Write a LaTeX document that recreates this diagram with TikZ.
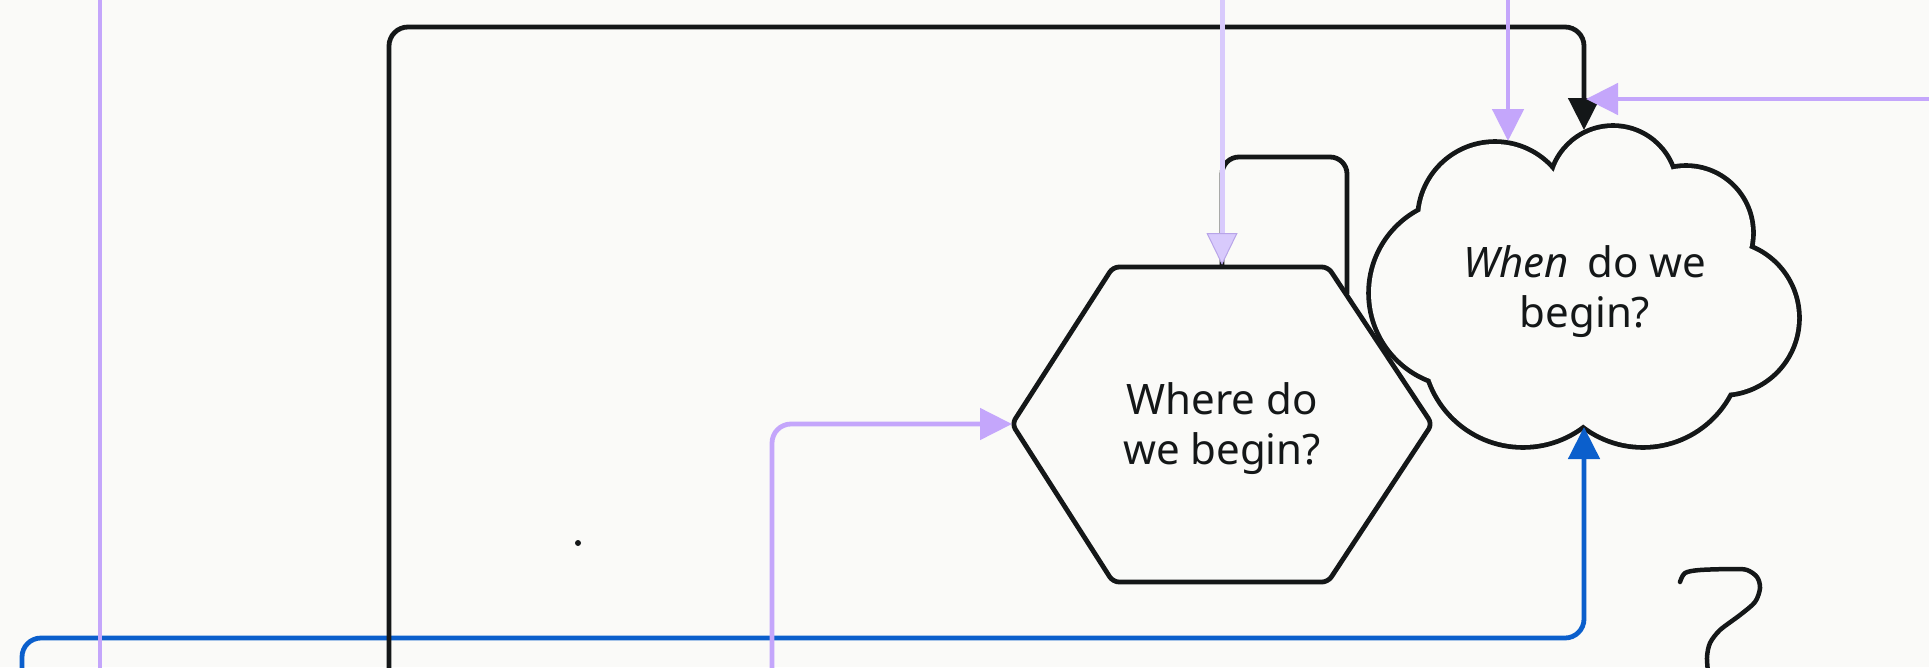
\documentclass[tikz,border=0pt]{standalone}
\usepackage{fontspec}
\setmainfont{Noto Sans}
\usetikzlibrary{arrows.meta}
\definecolor{bg}{HTML}{FAFAF8}
\definecolor{ink}{HTML}{141718}
\definecolor{mpurple}{HTML}{C4A6FB}
\definecolor{lpurple}{HTML}{D8CAFC}
\definecolor{lpurpleedge}{HTML}{B8A4E8}
\definecolor{flowblue}{HTML}{0B5FCC}
\begin{document}
\begin{tikzpicture}[x=1pt,y=-1pt,
  conn/.style={line width=4.8pt, rounded corners=19pt},
  arrowtip/.style={-{Triangle[length=32pt,width=31pt]}},
  shapeline/.style={draw=ink, line width=4.8pt, line join=round},
  txt/.style={font=\fontsize{42}{50}\selectfont, text=ink, align=center, inner sep=0pt},
]
\fill[bg] (0,0) rectangle (1929,667);
\useasboundingbox (0,0) rectangle (1929,667);

% cloud outline: union of circles (outer half of a doubled stroke stays visible)
\path[draw=ink, line width=9.6pt]
  (1613,190) circle[radius=62] (1686,233) circle[radius=65]
  (1722,318) circle[radius=75] (1643,348) circle[radius=97]
  (1523,347) circle[radius=98] (1463,293) circle[radius=92]
  (1495,219) circle[radius=75];
\path[fill=bg]
  (1613,190) circle[radius=62] (1686,233) circle[radius=65]
  (1722,318) circle[radius=75] (1643,348) circle[radius=97]
  (1523,347) circle[radius=98] (1463,293) circle[radius=92]
  (1495,219) circle[radius=75] (1590,270) circle[radius=80];

% text nodes
\node[txt] (hex) at (1222,429) {Where do\\we begin?};
\node[txt] (cloud) at (1585,292) {\textit{When}\hspace{8pt} do we\\begin?};

% named anchor points
\coordinate (hexW) at (1012,424);
\coordinate (hexTop) at (1222,265);
\coordinate (hexLoopA) at (1222,267);
\coordinate (hexLoopB) at (1347,294);
\coordinate (cloudN) at (1584,130);
\coordinate (cloudNW) at (1508,141);
\coordinate (cloudS) at (1584,427);
\coordinate (pTipE) at (1586,99);
\coordinate (pLtop) at (100,-10);
\coordinate (pLbot) at (100,680);
\coordinate (blkS) at (389,680);
\coordinate (lpN) at (1222,-10);
\coordinate (mpN) at (1508,-10);
\coordinate (mpE) at (1940,99);
\coordinate (mpS) at (772,680);
\coordinate (blS) at (22,680);

% connectors
\draw[conn, flowblue, arrowtip] (blS) -- (22,638) -- (1584,638) -- (cloudS);
\draw[conn, ink, arrowtip] (blkS) -- (389,27) -- (1584,27) -- (cloudN);
\draw[conn, ink, rounded corners=17pt] (hexLoopA) -- (1222,157) -- (1347,157) -- (hexLoopB);
\draw[mpurple, line width=4.8pt] (pLtop) -- (pLbot);
\draw[lpurple, line width=5pt, -{Triangle[length=32pt,width=31pt,color=lpurpleedge,fill=lpurple,line width=1pt]}] (lpN) -- (hexTop);
\draw[conn, mpurple, arrowtip] (mpN) -- (cloudNW);
\draw[conn, mpurple, arrowtip] (mpE) -- (pTipE);
\draw[conn, mpurple, arrowtip] (mpS) -- (772,424) -- (hexW);

% hexagon outline
\draw[shapeline, rounded corners=6pt] (1113,267) -- (1328,267) -- (1432,424) -- (1328,582) -- (1113,582) -- (1012,424) -- cycle;

% hand-drawn squiggle
\draw[ink, line width=4.5pt, line cap=round]
  plot[smooth] coordinates {(1680,582) (1685,573) (1700,570) (1733,569) (1747,570) (1757,577) (1760,588) (1755,602) (1740,615) (1720,630) (1710,643) (1707,657) (1708,672)};

% dot
\fill[ink] (578,543) circle[radius=3];
\end{tikzpicture}
\end{document}
